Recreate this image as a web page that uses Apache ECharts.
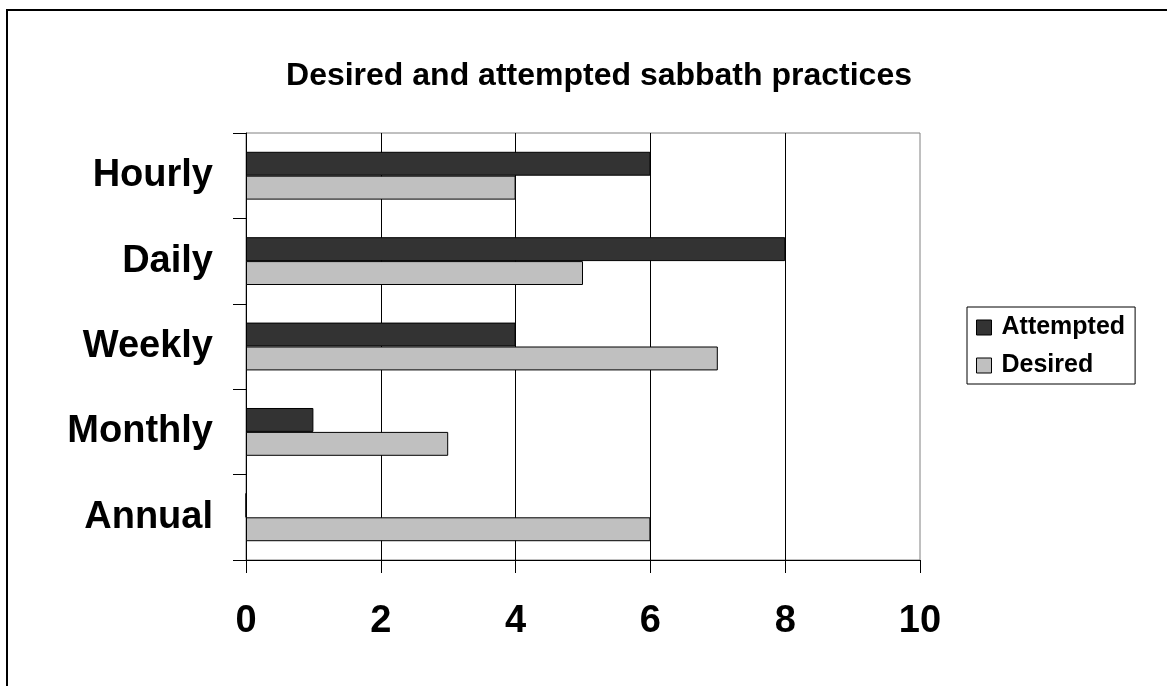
<!DOCTYPE html>
<html>
<head>
<meta charset="utf-8">
<script src="https://cdn.jsdelivr.net/npm/echarts@6/dist/echarts.min.js"></script>
<style>
  html, body { margin: 0; padding: 0; background: #fff; }
  #chart { width: 1167px; height: 686px; }
</style>
</head>
<body>
<div id="chart"></div>
<script>
// Sabbath practice frequencies
const categories = ['Hourly', 'Daily', 'Weekly', 'Monthly', 'Annual'];
const attempted = [6, 8, 4, 1, 0];
const desired = [4, 5, 7, 3, 6];
const xTicks = { min: 0, max: 10, interval: 2 };

const FONT = 'Arial, "Liberation Sans", sans-serif';

const chart = echarts.init(document.getElementById('chart'), null, { renderer: 'canvas' });

chart.setOption({
  backgroundColor: '#ffffff',
  animation: false,
  title: {
    text: 'Desired and attempted sabbath practices',
    left: 594,
    top: 55,
    textAlign: 'center',
    textStyle: { fontFamily: FONT, fontWeight: 'bold', fontSize: 32, color: '#000' }
  },
  graphic: [{
    type: 'rect',
    shape: { x: 7, y: 10, width: 1200, height: 720 },
    style: { fill: 'none', stroke: '#000', lineWidth: 2 },
    silent: true,
    z: 100
  }],
  legend: {
    orient: 'vertical',
    left: 967,
    top: 307,
    padding: [8, 10, 6, 9],
    itemGap: 13,
    itemWidth: 15,
    itemHeight: 15,
    icon: 'rect',
    borderColor: '#000',
    borderWidth: 1,
    backgroundColor: '#fff',
    itemStyle: { borderColor: '#000', borderWidth: 1 },
    textStyle: { fontFamily: FONT, fontWeight: 'bold', fontSize: 25, color: '#000', padding: [0, 0, 0, 5] },
    data: ['Attempted', 'Desired']
  },
  grid: {
    left: 246,
    right: 247,
    top: 133,
    bottom: 126,
    show: true,
    borderColor: '#808080',
    borderWidth: 1,
    backgroundColor: 'transparent',
    containLabel: false
  },
  xAxis: {
    type: 'value',
    min: xTicks.min,
    max: xTicks.max,
    interval: xTicks.interval,
    axisLine: { show: true, lineStyle: { color: '#000', width: 1 } },
    axisTick: { show: true, length: 13, lineStyle: { color: '#000' } },
    axisLabel: { fontFamily: FONT, fontWeight: 'bold', fontSize: 38, color: '#000', margin: 43 },
    splitLine: { show: true, showMinLine: false, showMaxLine: false, lineStyle: { color: '#000', width: 1 } }
  },
  yAxis: {
    type: 'category',
    data: categories,
    inverse: true,
    axisLine: { show: true, lineStyle: { color: '#000', width: 1 } },
    axisTick: { show: true, length: 13, lineStyle: { color: '#000' } },
    axisLabel: { fontFamily: FONT, fontWeight: 'bold', fontSize: 38, color: '#000', margin: 33, padding: [9, 0, 0, 0] },
    splitLine: { show: false }
  },
  series: [
    {
      name: 'Attempted',
      type: 'bar',
      data: attempted,
      barGap: '0%',
      barCategoryGap: '44%',
      itemStyle: { color: '#333333', borderColor: '#000', borderWidth: 1 }
    },
    {
      name: 'Desired',
      type: 'bar',
      data: desired,
      barGap: '0%',
      barCategoryGap: '44%',
      itemStyle: { color: '#c0c0c0', borderColor: '#000', borderWidth: 1 }
    }
  ]
});
</script>
</body>
</html>
